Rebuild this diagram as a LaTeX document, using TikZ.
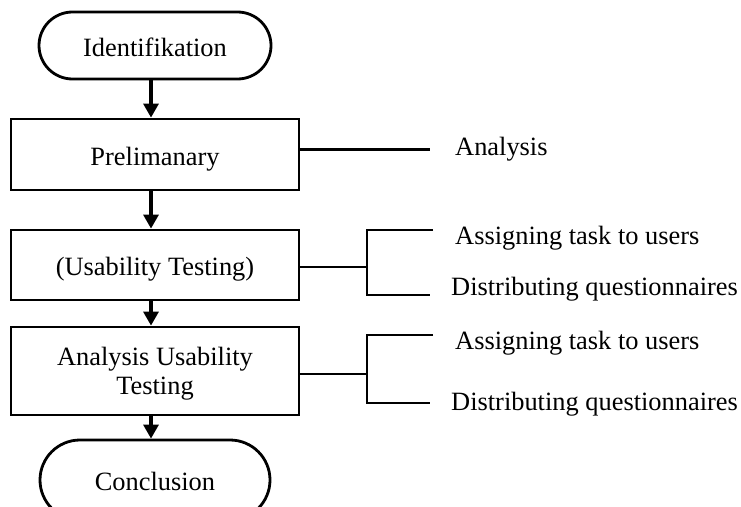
\documentclass[tikz,border=0pt]{standalone}
\usepackage{fontspec}
\setmainfont{Liberation Serif}
\usetikzlibrary{shapes.misc,arrows.meta}
\begin{document}
\begin{tikzpicture}[x=1pt,y=-1pt,
  every node/.style={font=\fontsize{26.4}{29.5}\selectfont},
  term/.style={draw,line width=2.8pt,rounded rectangle,inner sep=0pt},
  procbox/.style={draw,line width=2.8pt,rectangle,inner sep=0pt,minimum width=288pt,align=center},
  oneline/.style={text height=21pt,text depth=0pt},
  flow/.style={line width=3.2pt,-{Triangle[width=15pt,length=14pt]}},
  thickconn/.style={line width=3.2pt},
  brk/.style={line width=2.7pt},
  lbl/.style={anchor=base west,inner sep=0pt}]
\useasboundingbox (0,0) rectangle (741,506);
\clip (0,0) rectangle (741,506);
% main column
\node[term,oneline,minimum width=232pt,minimum height=67pt] (id) at (155,45.5) {Identifikation};
\node[procbox,oneline,minimum height=71pt] (pre) at (155,154.5) {Prelimanary};
\node[procbox,oneline,minimum height=70pt] (usa) at (155,265) {(Usability Testing)};
\node[procbox,text depth=0pt,minimum height=88pt] (ana) at (155,371) {Analysis Usability\\Testing};
\node[term,oneline,minimum width=230pt,minimum height=80pt] (con) at (155,480) {Conclusion};
% arrows
\draw[flow] ([xshift=-4pt]id.south) -- ([xshift=-4pt]pre.north);
\draw[flow] ([xshift=-4pt]pre.south) -- ([xshift=-4pt]usa.north);
\draw[flow] ([xshift=-4pt]usa.south) -- ([xshift=-4pt]ana.north);
\draw[flow] ([xshift=-4pt]ana.south) -- ([xshift=-4pt]con.north);
% right side: Prelimanary
\coordinate (pe) at (430,149.5);
\draw[thickconn] ([yshift=5pt]pre.east) -- (pe);
\node[lbl] (la) at (455,155) {Analysis};
% right side: Usability Testing
\coordinate (j1) at (367,267);
\coordinate (t1) at (433,230);
\coordinate (b1) at (430,295);
\draw[brk] ([yshift=-2pt]usa.east) -- (j1);
\draw[brk] (t1) -- (t1 -| j1) -- (b1 -| j1) -- (b1);
\node[lbl] (l1a) at (455,244) {Assigning task to users};
\node[lbl] (l1b) at (451,295) {Distributing questionnaires};
% right side: Analysis Usability Testing
\coordinate (j2) at (367,374);
\coordinate (t2) at (433,335);
\coordinate (b2) at (430,403);
\draw[brk] ([yshift=-3pt]ana.east) -- (j2);
\draw[brk] (t2) -- (t2 -| j2) -- (b2 -| j2) -- (b2);
\node[lbl] (l2a) at (455,349) {Assigning task to users};
\node[lbl] (l2b) at (451,410) {Distributing questionnaires};
\end{tikzpicture}
\end{document}
